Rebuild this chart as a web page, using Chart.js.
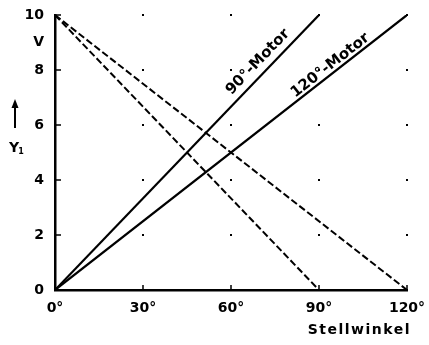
<!DOCTYPE html>
<html lang="de">
<head>
    <meta charset="UTF-8">
    <title>Stellwinkel</title>
    <script src="https://cdn.jsdelivr.net/npm/chart.js"></script>
    <style>
        html, body { margin: 0; padding: 0; background: #fff; }
        #wrap { width: 429px; height: 345px; }
    </style>
</head>
<body>
<div id="wrap"><canvas id="chart" width="429" height="345"></canvas></div>
<script>
// data
const angleTicks = [0, 30, 60, 90, 120];
const voltTicks = [0, 2, 4, 6, 8, 10];
const rise90X = [0, 90];
const rise90Y = [0, 10];
const rise120X = [0, 120];
const rise120Y = [0, 10];
const fall90X = [0, 90];
const fall90Y = [10, 0];
const fall120X = [0, 120];
const fall120Y = [10, 0];
const label90 = '90°-Motor';
const label120 = '120°-Motor';

const FONT = '"DejaVu Sans", sans-serif';

function pts(xs, ys) {
    return xs.map((x, i) => ({ x: x, y: ys[i] }));
}

const decor = {
    id: 'decor',
    afterDraw(chart) {
        const c = chart.ctx;
        const xs = chart.scales.x, ys = chart.scales.y;
        c.save();
        c.fillStyle = '#000';
        c.strokeStyle = '#000';
        // grid dots
        angleTicks.slice(1).forEach(a => {
            voltTicks.slice(1).forEach(v => {
                c.fillRect(xs.getPixelForValue(a) - 1, ys.getPixelForValue(v) - 1, 2, 2);
            });
        });
        // tick marks on the axes
        c.lineWidth = 1.5;
        c.beginPath();
        voltTicks.forEach(v => {
            const py = ys.getPixelForValue(v);
            c.moveTo(xs.left, py); c.lineTo(xs.left + 6, py);
        });
        angleTicks.forEach(a => {
            const px = xs.getPixelForValue(a);
            c.moveTo(px, ys.bottom); c.lineTo(px, ys.bottom - 5);
        });
        c.stroke();
        // labels along the rising lines
        c.font = 'bold 15px ' + FONT;
        c.textAlign = 'center';
        c.textBaseline = 'bottom';
        [[rise90X, rise90Y, label90, 0.80, -4], [rise120X, rise120Y, label120, 0.795, 0]].forEach(([lx, ly, txt, f, off]) => {
            const x0 = xs.getPixelForValue(lx[0]), y0 = ys.getPixelForValue(ly[0]);
            const x1 = xs.getPixelForValue(lx[1]), y1 = ys.getPixelForValue(ly[1]);
            const ang = Math.atan2(y1 - y0, x1 - x0);
            c.save();
            c.translate(x0 + (x1 - x0) * f, y0 + (y1 - y0) * f);
            c.rotate(ang);
            c.fillText(txt, 0, off);
            c.restore();
        });
        // y axis caption: arrow and Y1
        const ax = 15;
        c.lineWidth = 2;
        c.beginPath();
        c.moveTo(ax, 128); c.lineTo(ax, 104);
        c.stroke();
        c.beginPath();
        c.moveTo(ax - 3.5, 108); c.lineTo(ax, 99); c.lineTo(ax + 3.5, 108);
        c.closePath(); c.fill();
        c.font = 'bold 14px ' + FONT;
        c.textAlign = 'center';
        c.textBaseline = 'middle';
        c.fillText('Y', ax - 1, 148);
        c.font = 'bold 8px ' + FONT;
        c.fillText('1', ax + 6, 152);
        // x axis caption
        c.font = 'bold 14px ' + FONT;
        c.textAlign = 'right';
        c.textBaseline = 'middle';
        c.letterSpacing = '1.5px';
        c.fillText('Stellwinkel', 411, 330);
        c.restore();
    }
};

const ctx = document.getElementById('chart').getContext('2d');
const lineStyle = { borderColor: '#000', pointRadius: 0, fill: false, tension: 0 };
new Chart(ctx, {
    type: 'scatter',
    data: {
        datasets: [
            Object.assign({ data: pts(rise90X, rise90Y), borderWidth: 2.2, showLine: true }, lineStyle),
            Object.assign({ data: pts(rise120X, rise120Y), borderWidth: 2.2, showLine: true }, lineStyle),
            Object.assign({ data: pts(fall90X, fall90Y), borderWidth: 2, borderDash: [7, 3], showLine: true }, lineStyle),
            Object.assign({ data: pts(fall120X, fall120Y), borderWidth: 2, borderDash: [7, 3], showLine: true }, lineStyle)
        ]
    },
    options: {
        responsive: false,
        animation: false,
        events: [],
        layout: { padding: { top: 15, right: 22, left: 0, bottom: 0 } },
        plugins: { legend: { display: false }, tooltip: { enabled: false } },
        scales: {
            x: {
                type: 'linear', min: 0, max: 120,
                afterBuildTicks: s => { s.ticks = angleTicks.map(v => ({ value: v })); },
                afterFit: s => { s.height = 55; },
                grid: { display: false },
                border: { display: true, color: '#000', width: 2.5 },
                ticks: {
                    color: '#000', padding: 2, maxRotation: 0,
                    font: { family: FONT, size: 14, weight: 'bold' },
                    callback: v => v + '°'
                }
            },
            y: {
                type: 'linear', min: 0, max: 10,
                afterBuildTicks: s => { s.ticks = voltTicks.concat([9]).map(v => ({ value: v })); },
                afterFit: s => { s.width = 55; },
                grid: { display: false },
                border: { display: true, color: '#000', width: 2.5 },
                ticks: {
                    color: '#000', padding: 3,
                    font: { family: FONT, size: 14, weight: 'bold' },
                    callback: v => v === 9 ? 'V' : v
                }
            }
        }
    },
    plugins: [decor]
});
</script>
</body>
</html>
